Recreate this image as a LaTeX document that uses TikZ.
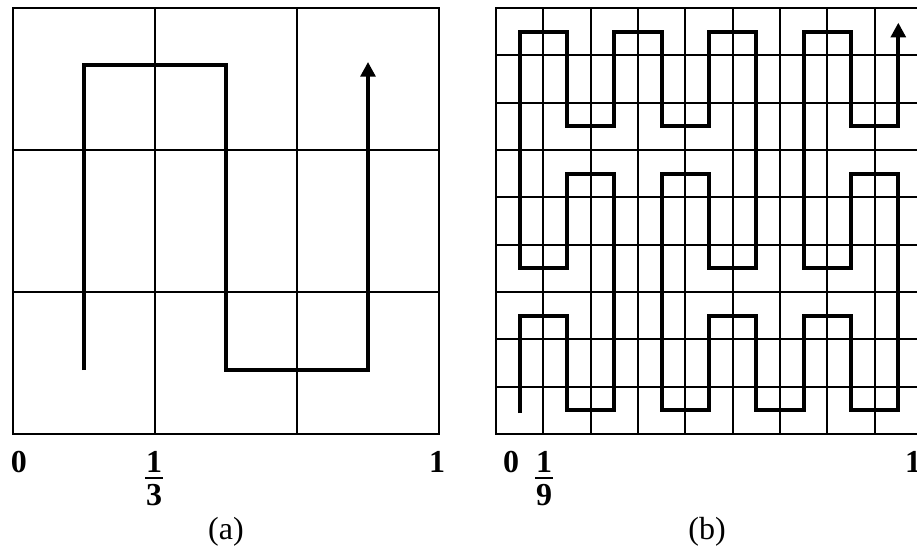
\documentclass[tikz,border=0pt]{standalone}
\usepackage{fontspec}
\setmainfont{Liberation Serif}
\usepackage{tikz}
\usetikzlibrary{arrows.meta}

\begin{document}
\begin{tikzpicture}[
	x=0.75pt, y=0.75pt,
	gridline/.style={line width=1.5pt, black},
	frame/.style={line width=2pt, black},
	curve/.style={line width=3pt, black, line join=miter,
		-{Triangle[length=11pt, width=11pt]}},
	tick/.style={font=\fontsize{24}{28}\selectfont\bfseries, inner sep=0pt},
	fracbar/.style={line width=1.6pt, black},
	caption/.style={font=\fontsize{24}{28}\selectfont, inner sep=0pt}
	]
	\useasboundingbox (0,0) rectangle (917,548);
	
	% panel (a): 3x3 grid
	\begin{scope}[shift={(13,114)}, scale=142]
		\foreach \k in {1,2} {
			\draw[gridline] (\k,0) -- (\k,3);
			\draw[gridline] (0,\k) -- (3,\k);
		}
		\draw[frame] (0,0) rectangle (3,3);
		\draw[curve] (0.5,0.45) -- (0.5,2.6) -- (1.5,2.6) -- (1.5,0.45)
			-- (2.5,0.45) -- (2.5,2.62);
	\end{scope}
	
	% panel (b): 9x9 grid
	\begin{scope}[shift={(496,114)}, scale=47.33]
		\foreach \k in {1,...,8} {
			\draw[gridline] (\k,0) -- (\k,9);
			\draw[gridline] (0,\k) -- (9,\k);
		}
		\draw[frame] (0,0) rectangle (9,9);
		\draw[curve] (0.5,0.44) -- (0.5,2.5) -- (1.5,2.5) -- (1.5,0.5)
			-- (2.5,0.5) -- (2.5,5.5) -- (1.5,5.5) -- (1.5,3.5) -- (0.5,3.5)
			-- (0.5,8.5) -- (1.5,8.5) -- (1.5,6.5) -- (2.5,6.5) -- (2.5,8.5)
			-- (3.5,8.5) -- (3.5,6.5) -- (4.5,6.5) -- (4.5,8.5) -- (5.5,8.5)
			-- (5.5,3.5) -- (4.5,3.5) -- (4.5,5.5) -- (3.5,5.5) -- (3.5,0.5)
			-- (4.5,0.5) -- (4.5,2.5) -- (5.5,2.5) -- (5.5,0.5) -- (6.5,0.5)
			-- (6.5,2.5) -- (7.5,2.5) -- (7.5,0.5) -- (8.5,0.5) -- (8.5,5.5)
			-- (7.5,5.5) -- (7.5,3.5) -- (6.5,3.5) -- (6.5,8.5) -- (7.5,8.5)
			-- (7.5,6.5) -- (8.5,6.5) -- (8.5,8.69);
	\end{scope}
	
	% axis labels (a)
	\node[tick] (zeroA) at (19,86) {0};
	\node[tick] (numA) at (154,86) {1};
	\node[tick] (denA) at (154,53) {3};
	\path (numA.south) -- (denA.north) coordinate[midway] (barA);
	\draw[fracbar] ([xshift=-6.5pt]barA) -- ([xshift=6.5pt]barA);
	\node[tick] (oneA) at (437,86) {1};
	
	% axis labels (b)
	\node[tick] (zeroB) at (511,86) {0};
	\node[tick] (numB) at (544,86) {1};
	\node[tick] (denB) at (544,53) {9};
	\path (numB.south) -- (denB.north) coordinate[midway] (barB);
	\draw[fracbar] ([xshift=-6.5pt]barB) -- ([xshift=6.5pt]barB);
	\node[tick] (oneB) at (913,86) {1};
	
	% captions
	\node[caption] (capA) at (226,16) {(a)};
	\node[caption] (capB) at (707,16) {(b)};
\end{tikzpicture}
\end{document}
